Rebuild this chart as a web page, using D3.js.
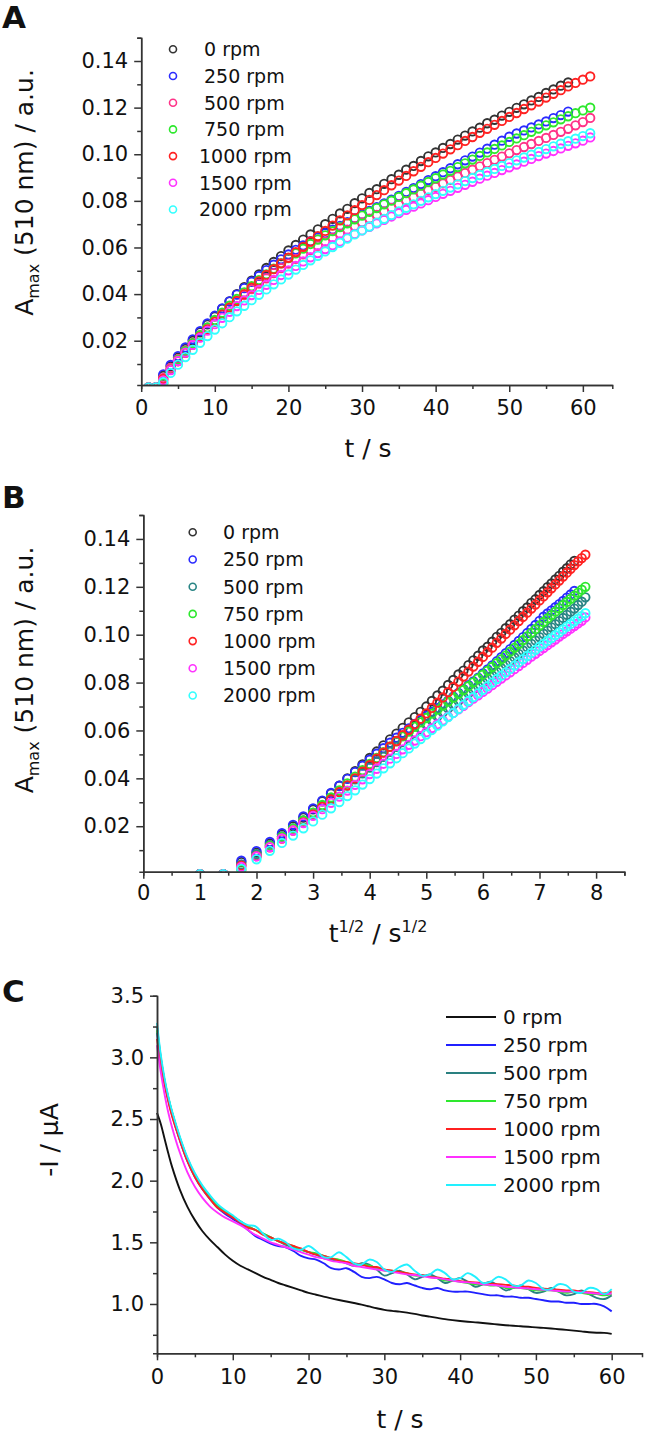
<!DOCTYPE html>
<html>
<head>
<meta charset="utf-8">
<script src="https://cdn.jsdelivr.net/npm/d3@7"></script>
<style>
  body { margin: 0; background: #fff; }
  svg text { font-family: 'DejaVu Sans', Verdana, sans-serif; fill: #111; }
  .axis path, .axis line { stroke: #333; stroke-width: 1.5; }
</style>
</head>
<body>
<svg id="fig" width="645" height="1434"></svg>
<script>
// ---- data ----
let rpmLabels = ['0 rpm', '250 rpm', '500 rpm', '750 rpm', '1000 rpm', '1500 rpm', '2000 rpm']

// absorbance A_max(510 nm), one point per second, t = 1 .. 61 s
let tAbs = d3.range(1, 62)
let abs0 = [0, 0, 0.0050, 0.0090, 0.0128, 0.0165, 0.0200, 0.0236, 0.0270, 0.0304,
    0.0337, 0.0369, 0.0400, 0.0430, 0.0458, 0.0485, 0.0512, 0.0538, 0.0563, 0.0587,
    0.0611, 0.0634, 0.0656, 0.0678, 0.0700, 0.0723, 0.0746, 0.0766, 0.0790, 0.0811,
    0.0834, 0.0850, 0.0873, 0.0893, 0.0912, 0.0934, 0.0950, 0.0971, 0.0991, 0.1008,
    0.1027, 0.1044, 0.1063, 0.1080, 0.1098, 0.1114, 0.1133, 0.1148, 0.1166, 0.1182,
    0.1199, 0.1214, 0.1231, 0.1246, 0.1263, 0.1278, 0.1294, 0.1308]
let abs250 = [0, 0, 0.0056, 0.0096, 0.0134, 0.0171, 0.0206, 0.0241, 0.0274, 0.0307,
    0.0339, 0.0369, 0.0398, 0.0426, 0.0453, 0.0478, 0.0503, 0.0526, 0.0549, 0.0570,
    0.0590, 0.0609, 0.0627, 0.0644, 0.0661, 0.0677, 0.0693, 0.0709, 0.0725, 0.0741,
    0.0757, 0.0773, 0.0789, 0.0805, 0.0821, 0.0838, 0.0855, 0.0872, 0.0889, 0.0906,
    0.0923, 0.0940, 0.0957, 0.0974, 0.0990, 0.1007, 0.1024, 0.1041, 0.1058, 0.1075,
    0.1089, 0.1102, 0.1115, 0.1128, 0.1141, 0.1155, 0.1168, 0.1183]
let abs500 = [0, 0, 0.0040, 0.0083, 0.0121, 0.0157, 0.0191, 0.0224, 0.0256, 0.0286,
    0.0315, 0.0343, 0.0370, 0.0396, 0.0421, 0.0445, 0.0468, 0.0490, 0.0511, 0.0531,
    0.0551, 0.0570, 0.0589, 0.0607, 0.0625, 0.0642, 0.0659, 0.0676, 0.0692, 0.0708,
    0.0724, 0.0740, 0.0755, 0.0770, 0.0785, 0.0800, 0.0815, 0.0830, 0.0845, 0.0860,
    0.0875, 0.0890, 0.0905, 0.0920, 0.0934, 0.0948, 0.0962, 0.0976, 0.0990, 0.1004,
    0.1018, 0.1031, 0.1044, 0.1057, 0.1070, 0.1083, 0.1096, 0.1109, 0.1124, 0.1138, 0.1156]
let abs750 = [0, 0, 0.0018, 0.0076, 0.0118, 0.0155, 0.0190, 0.0224, 0.0257, 0.0289,
    0.0320, 0.0350, 0.0379, 0.0407, 0.0434, 0.0460, 0.0485, 0.0509, 0.0532, 0.0554,
    0.0575, 0.0595, 0.0615, 0.0634, 0.0652, 0.0670, 0.0687, 0.0704, 0.0721, 0.0737,
    0.0753, 0.0769, 0.0785, 0.0801, 0.0817, 0.0833, 0.0849, 0.0865, 0.0881, 0.0897,
    0.0913, 0.0929, 0.0945, 0.0961, 0.0977, 0.0993, 0.1008, 0.1023, 0.1038, 0.1053,
    0.1068, 0.1082, 0.1096, 0.1110, 0.1124, 0.1137, 0.1150, 0.1163, 0.1176, 0.1188, 0.1200]
let abs1000 = [0, 0, 0.0035, 0.0075, 0.0112, 0.0148, 0.0182, 0.0216, 0.0249, 0.0281,
    0.0312, 0.0342, 0.0371, 0.0400, 0.0428, 0.0455, 0.0482, 0.0507, 0.0532, 0.0556,
    0.0580, 0.0603, 0.0626, 0.0649, 0.0671, 0.0694, 0.0716, 0.0738, 0.0760, 0.0782,
    0.0804, 0.0825, 0.0846, 0.0867, 0.0887, 0.0907, 0.0927, 0.0946, 0.0966, 0.0984,
    0.1003, 0.1021, 0.1039, 0.1057, 0.1074, 0.1092, 0.1109, 0.1126, 0.1143, 0.1160,
    0.1177, 0.1194, 0.1210, 0.1226, 0.1243, 0.1259, 0.1275, 0.1291, 0.1306, 0.1320, 0.1334]
let abs1500 = [0, 0, 0.0030, 0.0074, 0.0113, 0.0149, 0.0182, 0.0213, 0.0243, 0.0271,
    0.0298, 0.0324, 0.0349, 0.0373, 0.0396, 0.0418, 0.0440, 0.0461, 0.0482, 0.0502,
    0.0521, 0.0540, 0.0558, 0.0576, 0.0593, 0.0610, 0.0626, 0.0642, 0.0658, 0.0673,
    0.0688, 0.0703, 0.0718, 0.0733, 0.0747, 0.0761, 0.0775, 0.0789, 0.0803, 0.0817,
    0.0830, 0.0843, 0.0856, 0.0869, 0.0882, 0.0895, 0.0908, 0.0920, 0.0932, 0.0944,
    0.0956, 0.0968, 0.0980, 0.0992, 0.1003, 0.1014, 0.1025, 0.1036, 0.1047, 0.1058, 0.1072]
let abs2000 = [0, 0, 0.0022, 0.0062, 0.0097, 0.0130, 0.0161, 0.0191, 0.0220, 0.0248,
    0.0275, 0.0301, 0.0326, 0.0350, 0.0374, 0.0397, 0.0420, 0.0442, 0.0463, 0.0484,
    0.0505, 0.0525, 0.0545, 0.0564, 0.0583, 0.0602, 0.0620, 0.0638, 0.0656, 0.0673,
    0.0690, 0.0707, 0.0723, 0.0739, 0.0755, 0.0770, 0.0785, 0.0800, 0.0815, 0.0829,
    0.0843, 0.0857, 0.0871, 0.0885, 0.0898, 0.0911, 0.0924, 0.0937, 0.0950, 0.0962,
    0.0974, 0.0986, 0.0998, 0.1010, 0.1022, 0.1034, 0.1045, 0.1056, 0.1067, 0.1078, 0.1090]

// current -I / uA vs t
let tCur = [0, 0.5, 1, 1.5].concat(d3.range(2, 61))
let cur0 = [2.55, 2.46, 2.34, 2.22,
    2.11, 1.93, 1.79, 1.68, 1.59, 1.52, 1.46, 1.40, 1.35, 1.31, 1.28, 1.25, 1.22, 1.195, 1.17, 1.15, 1.13, 1.11, 1.09,
    1.075, 1.06, 1.045, 1.032, 1.02, 1.008, 0.995, 0.98, 0.965, 0.952, 0.944, 0.938, 0.93, 0.92, 0.907, 0.897, 0.887,
    0.877, 0.869, 0.862, 0.856, 0.851, 0.846, 0.84, 0.834, 0.828, 0.823, 0.819, 0.815, 0.81, 0.806, 0.801, 0.795,
    0.79, 0.784, 0.778, 0.771, 0.767, 0.766, 0.758]
let cur250 = [3.20, 2.97, 2.79, 2.65,
    2.53, 2.33, 2.16, 2.03, 1.93, 1.85, 1.78, 1.73, 1.69, 1.65, 1.60, 1.55, 1.52, 1.49, 1.47, 1.46, 1.43, 1.39, 1.37,
    1.36, 1.33, 1.29, 1.28, 1.29, 1.26, 1.22, 1.21, 1.22, 1.20, 1.17, 1.16, 1.17, 1.15, 1.13, 1.12, 1.13,
    1.11, 1.10, 1.10, 1.10, 1.09, 1.08, 1.07, 1.07, 1.06, 1.06, 1.05, 1.05, 1.04, 1.03, 1.02, 1.02,
    1.01, 1.01, 1.00, 1.00, 1.00, 0.98, 0.94]
let cur500 = [3.25, 3.00, 2.81, 2.67,
    2.55, 2.35, 2.18, 2.05, 1.95, 1.87, 1.80, 1.75, 1.71, 1.67, 1.63, 1.60, 1.57, 1.54, 1.51, 1.48, 1.46, 1.44, 1.42,
    1.40, 1.37, 1.36, 1.35, 1.33, 1.31, 1.33, 1.32, 1.28, 1.23, 1.25, 1.27, 1.24, 1.20, 1.22, 1.24, 1.21,
    1.17, 1.19, 1.21, 1.18, 1.14, 1.16, 1.18, 1.15, 1.11, 1.13, 1.15, 1.12, 1.09, 1.10, 1.13, 1.10,
    1.07, 1.08, 1.11, 1.08, 1.05, 1.04, 1.07]
let cur750 = [3.22, 2.99, 2.81, 2.67,
    2.55, 2.35, 2.18, 2.05, 1.95, 1.87, 1.80, 1.75, 1.71, 1.67, 1.63, 1.60, 1.57, 1.54, 1.51, 1.49, 1.47, 1.44, 1.42,
    1.41, 1.39, 1.37, 1.36, 1.34, 1.32, 1.32, 1.31, 1.29, 1.27, 1.27, 1.26, 1.25, 1.23, 1.23, 1.22, 1.21,
    1.19, 1.19, 1.18, 1.17, 1.16, 1.16, 1.15, 1.15, 1.13, 1.13, 1.13, 1.12, 1.11, 1.11, 1.11, 1.10,
    1.09, 1.10, 1.09, 1.08, 1.08, 1.07, 1.08]
let cur1000 = [3.15, 2.95, 2.78, 2.64,
    2.52, 2.33, 2.16, 2.03, 1.93, 1.85, 1.78, 1.74, 1.70, 1.66, 1.62, 1.60, 1.56, 1.54, 1.51, 1.49, 1.47, 1.45, 1.42,
    1.40, 1.39, 1.37, 1.35, 1.34, 1.33, 1.32, 1.30, 1.30, 1.28, 1.27, 1.26, 1.25, 1.24, 1.235, 1.22, 1.215,
    1.205, 1.20, 1.185, 1.18, 1.175, 1.17, 1.165, 1.16, 1.155, 1.15, 1.14, 1.14, 1.13, 1.125, 1.12, 1.115,
    1.11, 1.11, 1.10, 1.095, 1.09, 1.085, 1.10]
let cur1500 = [3.10, 2.88, 2.70, 2.55,
    2.43, 2.23, 2.07, 1.95, 1.86, 1.79, 1.74, 1.70, 1.67, 1.64, 1.60, 1.56, 1.53, 1.50, 1.48, 1.46, 1.44, 1.42, 1.40,
    1.38, 1.37, 1.35, 1.34, 1.33, 1.31, 1.30, 1.29, 1.28, 1.27, 1.26, 1.25, 1.24, 1.235, 1.225, 1.215, 1.21,
    1.20, 1.19, 1.18, 1.175, 1.17, 1.16, 1.155, 1.15, 1.14, 1.135, 1.13, 1.125, 1.12, 1.115, 1.11, 1.105,
    1.10, 1.10, 1.095, 1.09, 1.085, 1.08, 1.085]
let cur2000 = [3.28, 3.02, 2.83, 2.68,
    2.56, 2.36, 2.19, 2.06, 1.96, 1.88, 1.81, 1.76, 1.72, 1.67, 1.64, 1.63, 1.57, 1.52, 1.53, 1.50, 1.45, 1.44, 1.47,
    1.43, 1.38, 1.38, 1.42, 1.38, 1.33, 1.32, 1.36, 1.34, 1.28, 1.26, 1.30, 1.32, 1.27, 1.23, 1.24, 1.28,
    1.25, 1.20, 1.21, 1.25, 1.22, 1.17, 1.18, 1.22, 1.20, 1.15, 1.15, 1.19, 1.17, 1.12, 1.12, 1.16,
    1.15, 1.10, 1.09, 1.13, 1.12, 1.08, 1.12]

let absSeries = [abs0, abs250, abs500, abs750, abs1000, abs1500, abs2000]
let curSeries = [cur0, cur250, cur500, cur750, cur1000, cur1500, cur2000]

let colorsA = ['#333333', '#2b2bff', '#ff3388', '#2ee82e', '#ff2222', '#ff33ff', '#33ffff']
let colorsB = ['#333333', '#2b2bff', '#2a8585', '#2ee82e', '#ff2222', '#ff33ff', '#33ffff']
let colorsC = ['#111111', '#2020ff', '#2a8080', '#2ee82e', '#ff2020', '#ff30ff', '#22f0ff']

let svg = d3.select('#fig')

// ---- helpers ----
let drawAxes = (g, x, y, o) => {
    let xr = y.range()[0]
    let yr = x.range()[0]
    g.append('g').attr('class', 'axis')
        .attr('transform', `translate(0,${xr})`)
        .call(d3.axisBottom(x).tickValues(o.xMinor).tickSize(4).tickFormat(''))
    g.append('g').attr('class', 'axis')
        .attr('transform', `translate(0,${xr})`)
        .call(d3.axisBottom(x).tickValues(o.xMajor).tickSize(7).tickSizeOuter(0)
            .tickPadding(o.xPad).tickFormat(o.xFmt))
        .selectAll('text').style('font-size', '21px')
    g.append('g').attr('class', 'axis')
        .attr('transform', `translate(${yr},0)`)
        .call(d3.axisLeft(y).tickValues(o.yMinor).tickSize(4).tickFormat(''))
    g.append('g').attr('class', 'axis')
        .attr('transform', `translate(${yr},0)`)
        .call(d3.axisLeft(y).tickValues(o.yMajor).tickSize(7).tickSizeOuter(0)
            .tickPadding(6).tickFormat(o.yFmt))
        .selectAll('text').style('font-size', '21px')
}

let drawScatter = (id, x, y, xOf, colors, legend) => {
    let g = svg.append('g')
    g.append('clipPath').attr('id', id)
        .append('rect')
        .attr('x', x.range()[0]).attr('y', y.range()[1] - 6)
        .attr('width', x.range()[1] - x.range()[0] + 6)
        .attr('height', y.range()[0] - y.range()[1] + 6)

    let plot = g.append('g').attr('clip-path', `url(#${id})`)
    absSeries.forEach((vals, i) => {
        plot.append('g')
            .selectAll('circle')
            .data(vals)
            .enter().append('circle')
            .attr('cx', (d, j) => x(xOf(tAbs[j])))
            .attr('cy', d => y(d))
            .attr('r', 4.2)
            .style('fill', 'none')
            .style('stroke', colors[i])
            .style('stroke-width', 1.9)
    })

    // legend
    let lg = g.append('g')
    rpmLabels.forEach((lab, i) => {
        let cy = legend.y0 + legend.dy * i
        lg.append('circle')
            .attr('cx', legend.cx).attr('cy', cy).attr('r', 3.5)
            .style('fill', 'none').style('stroke', colors[i]).style('stroke-width', 1.6)
        lg.append('text')
            .attr('x', legend.tx(lab)).attr('y', cy).attr('dy', '0.36em')
            .style('font-size', '19px')
            .text(lab)
    })
    return g
}

// ---- panel A ----
let xA = d3.scaleLinear().domain([0, 64]).range([141.2, 612.3])
let yA = d3.scaleLinear().domain([0.001, 0.15]).range([385, 37.7])

let gA = drawScatter('clipA', xA, yA, t => t, colorsA,
    { cx: 173, y0: 49.3, dy: 26.7, tx: lab => lab.length > 7 ? 199 : 204 })
drawAxes(gA, xA, yA, {
    xMajor: [0, 10, 20, 30, 40, 50, 60], xMinor: [5, 15, 25, 35, 45, 55],
    yMajor: [0.02, 0.04, 0.06, 0.08, 0.10, 0.12, 0.14],
    yMinor: [0.01, 0.03, 0.05, 0.07, 0.09, 0.11, 0.13, 0.15],
    xFmt: d3.format('d'), yFmt: d3.format('.2f'), xPad: 8
})

// ---- panel B ----
let xB = d3.scaleLinear().domain([0, 8.5]).range([143.3, 624.4])
let yB = d3.scaleLinear().domain([0.001, 0.15]).range([871.7, 515])

let gB = drawScatter('clipB', xB, yB, t => Math.sqrt(t), colorsB,
    { cx: 192.7, y0: 532.3, dy: 27.2, tx: lab => 223 })
drawAxes(gB, xB, yB, {
    xMajor: [0, 1, 2, 3, 4, 5, 6, 7, 8], xMinor: [0.5, 1.5, 2.5, 3.5, 4.5, 5.5, 6.5, 7.5, 8.5],
    yMajor: [0.02, 0.04, 0.06, 0.08, 0.10, 0.12, 0.14],
    yMinor: [0.01, 0.03, 0.05, 0.07, 0.09, 0.11, 0.13, 0.15],
    xFmt: d3.format('d'), yFmt: d3.format('.2f'), xPad: 6
})

// ---- panel C ----
let xC = d3.scaleLinear().domain([0, 64]).range([157, 642])
let yC = d3.scaleLinear().domain([0.6, 3.5]).range([1353.3, 995.7])

let gC = svg.append('g')
let line = d3.line()
    .x((d, j) => xC(tCur[j]))
    .y(d => yC(d))
    .curve(d3.curveCatmullRom.alpha(0.5))

curSeries.forEach((vals, i) => {
    gC.append('path')
        .datum(vals)
        .attr('d', line)
        .style('fill', 'none')
        .style('stroke', colorsC[i])
        .style('stroke-width', 1.9)
})

drawAxes(gC, xC, yC, {
    xMajor: [0, 10, 20, 30, 40, 50, 60], xMinor: [5, 15, 25, 35, 45, 55],
    yMajor: [1.0, 1.5, 2.0, 2.5, 3.0, 3.5],
    yMinor: [0.75, 1.25, 1.75, 2.25, 2.75, 3.25],
    xFmt: d3.format('d'), yFmt: d3.format('.1f'), xPad: 9
})

rpmLabels.forEach((lab, i) => {
    let cy = 1017 + 28 * i
    gC.append('line')
        .attr('x1', 446).attr('x2', 496).attr('y1', cy).attr('y2', cy)
        .style('stroke', colorsC[i]).style('stroke-width', 1.9)
    gC.append('text')
        .attr('x', 503).attr('y', cy).attr('dy', '0.36em')
        .style('font-size', '20px')
        .text(lab)
})

// ---- titles ----
let yTitle = (x, y, parts) => {
    let t = svg.append('text')
        .attr('transform', `translate(${x},${y}) rotate(-90)`)
        .attr('text-anchor', 'middle')
        .style('font-size', '25px')
    parts(t)
}
let ampLabel = t => {
    t.append('tspan').text('A')
    t.append('tspan').attr('dy', 6).style('font-size', '16px').text('max')
    t.append('tspan').attr('dy', -6).text(' (510 nm) / a.u.')
}
yTitle(33, 192.5, ampLabel)
yTitle(33, 670, ampLabel)
yTitle(58, 1140, t => t.text('-I / µA'))

svg.append('text').attr('x', 368).attr('y', 457).attr('text-anchor', 'middle')
    .style('font-size', '25px').text('t / s')
svg.append('text').attr('x', 400).attr('y', 1428).attr('text-anchor', 'middle')
    .style('font-size', '25px').text('t / s')

let sq = svg.append('text').attr('x', 378).attr('y', 942).attr('text-anchor', 'middle')
    .style('font-size', '25px')
sq.append('tspan').text('t')
sq.append('tspan').attr('dy', -10).style('font-size', '16px').text('1/2')
sq.append('tspan').attr('dy', 10).text(' / s')
sq.append('tspan').attr('dy', -10).style('font-size', '16px').text('1/2')

// panel letters
let letters = [['A', 28], ['B', 508], ['C', 1002]]
letters.forEach(([l, y]) => {
    svg.append('text').attr('x', 2).attr('y', y)
        .style('font-size', '31px').style('font-weight', 'bold')
        .text(l)
})
</script>
</body>
</html>
